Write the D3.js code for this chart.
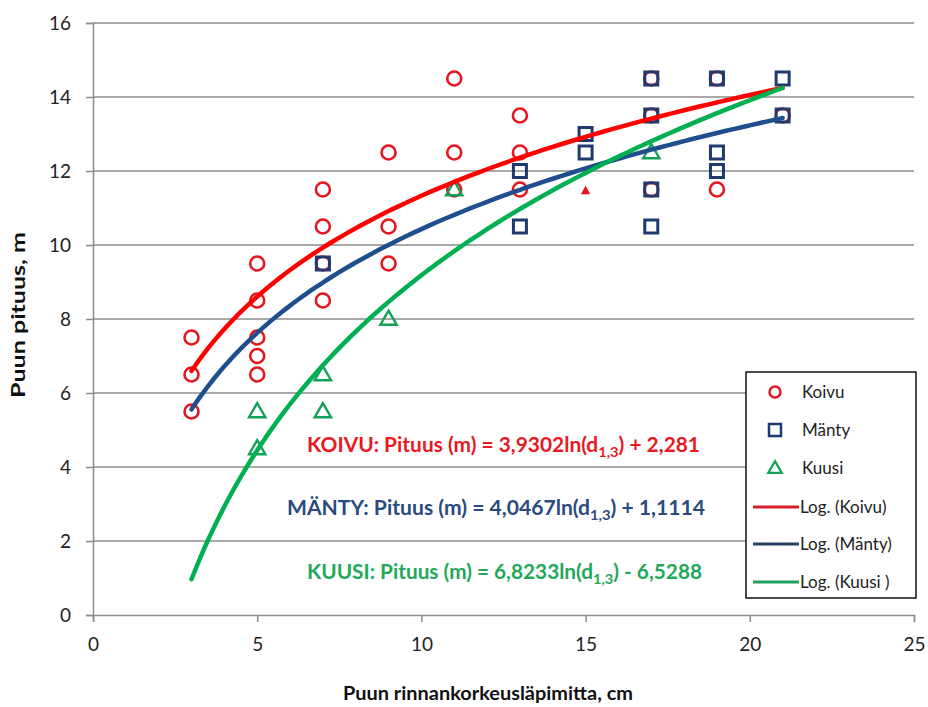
<!DOCTYPE html>
<html>
<head>
<meta charset="utf-8">
<script src="https://cdn.jsdelivr.net/npm/d3@7"></script>
<style>
  body { margin: 0; background: #fff; }
  svg text { font-family: Lato, "Noto Sans", sans-serif; }
</style>
</head>
<body>
<div id="chart"></div>
<script>
// measured points, [diameter cm, height m]
var koivu = [
    [3, 7.5], [3, 6.5], [3, 5.5],
    [5, 9.5], [5, 8.5], [5, 7.5], [5, 7], [5, 6.5],
    [7, 11.5], [7, 10.5], [7, 9.5], [7, 8.5],
    [9, 12.5], [9, 10.5], [9, 9.5],
    [11, 14.5], [11, 12.5], [11, 11.5],
    [13, 13.5], [13, 12.5], [13, 11.5],
    [17, 14.5], [17, 13.5], [17, 11.5],
    [19, 14.5], [19, 11.5],
    [21, 13.5]];

var manty = [
    [7, 9.5],
    [13, 12], [13, 10.5],
    [15, 13], [15, 12.5],
    [17, 14.5], [17, 13.5], [17, 11.5], [17, 10.5],
    [19, 14.5], [19, 12.5], [19, 12],
    [21, 14.5], [21, 13.5]];

var kuusi = [
    [5, 5.5], [5, 4.5],
    [7, 6.5], [7, 5.5],
    [9, 8],
    [11, 11.5],
    [17, 12.5]];

// stray marker in the original picture
var extraPoint = [[15, 11.45]];

// logarithmic trend lines: y = a*ln(x) + b
var trendNames = ["Koivu", "Mänty", "Kuusi "];
var trendA = [3.9302, 4.0467, 6.8233];
var trendB = [2.281, 1.1114, -6.5288];
var trendRange = [3, 21];
var trendColors = ["#ff0000", "#1f4e8c", "#00b050"];

var xTicks = [0, 5, 10, 15, 20, 25];
var yTicks = [0, 2, 4, 6, 8, 10, 12, 14, 16];

var equations = [
    {label: "KOIVU", a: "3,9302", b: "+ 2,281", color: "#e8191f"},
    {label: "MÄNTY", a: "4,0467", b: "+ 1,1114", color: "#2a4a80"},
    {label: "KUUSI", a: "6,8233", b: "- 6,5288", color: "#22a85a"}];

var legendLabels = ["Koivu", "Mänty", "Kuusi", "Log. (Koivu)", "Log. (Mänty)", "Log. (Kuusi )"];

var width = 928,
    height = 707;

var svg = d3.select("#chart").append("svg")
    .attr("width", width)
    .attr("height", height);

var x = d3.scaleLinear().domain([0, 25]).range([93, 914]);
var y = d3.scaleLinear().domain([0, 16]).range([615, 23]);

// gridlines
svg.append("g")
    .selectAll("line")
    .data(yTicks.filter(function(d) { return d > 0; }))
    .enter().append("line")
    .attr("x1", x(0)).attr("x2", x(25))
    .attr("y1", function(d) { return y(d); })
    .attr("y2", function(d) { return y(d); })
    .attr("stroke", "#8c8c8c")
    .attr("stroke-width", 1.5);

// axes
var xAxis = svg.append("g")
    .attr("transform", "translate(0," + y(0) + ")")
    .call(d3.axisBottom(x).tickValues(xTicks).tickSize(7).tickPadding(16));
var yAxis = svg.append("g")
    .attr("transform", "translate(" + x(0) + ",0)")
    .call(d3.axisLeft(y).tickValues(yTicks).tickSize(7).tickPadding(15));

[xAxis, yAxis].forEach(function(ax) {
    ax.select(".domain").attr("stroke", "#8c8c8c").attr("stroke-width", 1.5);
    ax.selectAll(".tick line").attr("stroke", "#8c8c8c").attr("stroke-width", 1.5);
    ax.selectAll(".tick text")
        .attr("fill", "#222")
        .style("font-size", "19px")
        .style("font-family", "Lato, sans-serif");
});

// markers
svg.append("g").selectAll("circle")
    .data(koivu)
    .enter().append("circle")
    .attr("cx", function(d) { return x(d[0]); })
    .attr("cy", function(d) { return y(d[1]); })
    .attr("r", 7)
    .attr("fill", "none")
    .attr("stroke", "#e3171f")
    .attr("stroke-width", 2.6);

var sq = 13;
svg.append("g").selectAll("rect")
    .data(manty)
    .enter().append("rect")
    .attr("x", function(d) { return x(d[0]) - sq / 2; })
    .attr("y", function(d) { return y(d[1]) - sq / 2; })
    .attr("width", sq).attr("height", sq)
    .attr("fill", "none")
    .attr("stroke", "#1f3a6e")
    .attr("stroke-width", 3);

var tri = d3.symbol().type(d3.symbolTriangle).size(115);
svg.append("g").selectAll("path")
    .data(kuusi)
    .enter().append("path")
    .attr("d", tri)
    .attr("transform", function(d) { return "translate(" + x(d[0]) + "," + (y(d[1]) + 1) + ")"; })
    .attr("fill", "none")
    .attr("stroke", "#13a058")
    .attr("stroke-width", 2.4);

svg.append("g").selectAll("path")
    .data(extraPoint)
    .enter().append("path")
    .attr("d", d3.symbol().type(d3.symbolTriangle).size(40))
    .attr("transform", function(d) { return "translate(" + x(d[0]) + "," + y(d[1]) + ")"; })
    .attr("fill", "#e3171f");

// trend lines
var line = d3.line()
    .x(function(d) { return x(d[0]); })
    .y(function(d) { return y(d[1]); })
    .curve(d3.curveMonotoneX);

trendA.forEach(function(a, i) {
    var pts = d3.range(trendRange[0], trendRange[1] + 0.001, 0.25).map(function(v) {
        return [v, a * Math.log(v) + trendB[i]];
    });
    svg.append("path")
        .datum(pts)
        .attr("d", line)
        .attr("fill", "none")
        .attr("stroke", trendColors[i])
        .attr("stroke-width", 4.5)
        .attr("stroke-linecap", "round");
});

// equations
var eqPos = [[307, 452, 393], [287, 515, 418], [307, 579, 395]];
equations.forEach(function(e, i) {
    var t = svg.append("text")
        .attr("x", eqPos[i][0])
        .attr("y", eqPos[i][1])
        .attr("fill", e.color)
        .attr("font-weight", "bold")
        .style("font-size", "20px")
        .attr("textLength", eqPos[i][2])
        .attr("lengthAdjust", "spacingAndGlyphs");
    t.append("tspan").text(e.label + ": Pituus (m) = " + e.a + "ln(d");
    t.append("tspan").attr("dy", 5).style("font-size", "14px").text("1,3");
    t.append("tspan").attr("dy", -5).text(") " + e.b);
});

// axis titles
svg.append("text")
    .attr("x", 343).attr("y", 700)
    .attr("font-weight", "bold")
    .attr("fill", "#111")
    .style("font-size", "19px")
    .attr("textLength", 290)
    .attr("lengthAdjust", "spacingAndGlyphs")
    .text("Puun rinnankorkeusläpimitta, cm");

svg.append("text")
    .attr("transform", "translate(25,398) rotate(-90)")
    .attr("font-weight", "bold")
    .attr("fill", "#111")
    .style("font-size", "19px")
    .attr("textLength", 166)
    .attr("lengthAdjust", "spacingAndGlyphs")
    .text("Puun pituus, m");

// legend
var lg = svg.append("g");
lg.append("rect")
    .attr("x", 746).attr("y", 372)
    .attr("width", 170).attr("height", 226)
    .attr("fill", "#fff")
    .attr("stroke", "#111")
    .attr("stroke-width", 1.5);

var legendY = [392, 430, 468, 507, 544, 582];
lg.append("circle")
    .attr("cx", 775).attr("cy", legendY[0]).attr("r", 5.5)
    .attr("fill", "none").attr("stroke", "#e3171f").attr("stroke-width", 2.5);
lg.append("rect")
    .attr("x", 769).attr("y", legendY[1] - 6).attr("width", 12).attr("height", 12)
    .attr("fill", "none").attr("stroke", "#1f3a6e").attr("stroke-width", 2.5);
lg.append("path")
    .attr("d", d3.symbol().type(d3.symbolTriangle).size(80))
    .attr("transform", "translate(775," + (legendY[2] + 1) + ")")
    .attr("fill", "none").attr("stroke", "#13a058").attr("stroke-width", 2.2);
trendColors.forEach(function(c, i) {
    lg.append("line")
        .attr("x1", 753).attr("x2", 799)
        .attr("y1", legendY[3 + i]).attr("y2", legendY[3 + i])
        .attr("stroke", c === "#ff0000" ? "#d62027" : (c === "#1f4e8c" ? "#243f66" : "#21a05a"))
        .attr("stroke-width", 3);
});
lg.selectAll("text")
    .data(legendLabels)
    .enter().append("text")
    .attr("x", function(d, i) { return i < 3 ? 802 : 800; })
    .attr("y", function(d, i) { return legendY[i] + 6; })
    .attr("fill", "#222")
    .style("font-size", "17px")
    .text(function(d) { return d; });
</script>
</body>
</html>
